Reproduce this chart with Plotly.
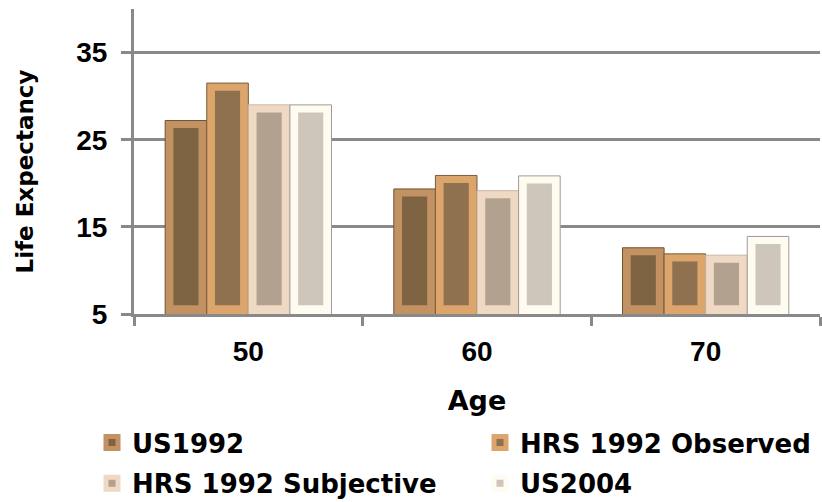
import numpy as np
import plotly.graph_objects as go

ages = ["50", "60", "70"]
series_names = ["US1992", "HRS 1992 Observed", "HRS 1992 Subjective", "US2004"]
us1992 = [27.2, 19.35, 12.6]
hrs_observed = [31.5, 20.9, 11.9]
hrs_subjective = [29.0, 19.15, 11.75]
us2004 = [29.0, 20.85, 13.9]
y_ticks = [5, 15, 25, 35]

series_values = [us1992, hrs_observed, hrs_subjective, us2004]

outer_colors = ["#c29262", "#dca56c", "#efd9c4", "#fefbf1"]
inner_colors = ["#7f6444", "#8f7150", "#b3a18f", "#cec5bb"]
edge_colors = ["#6e5233", "#7a5c3c", "#c8b6a4", "#a29b94"]
legend_ids = ["legend", "legend2", "legend", "legend2"]

GROUP = 0.7275
BAR_W = GROUP / 4
INSET_X = 0.036
AX_MIN = 5
BEV_BOTTOM = 1.0
BEV_TOP = 0.87

GRID = "#898989"

fig = go.Figure()

# outer (bevel) bars
for i, (name, vals) in enumerate(zip(series_names, series_values)):
    off = -GROUP / 2 + i * BAR_W
    fig.add_trace(go.Bar(
        x=ages, y=vals, name=name, showlegend=False,
        offset=off, width=BAR_W,
        marker=dict(color=outer_colors[i], line=dict(color=edge_colors[i], width=1)),
    ))

# inner (face) bars
for i, (name, vals) in enumerate(zip(series_names, series_values)):
    off = -GROUP / 2 + i * BAR_W + INSET_X
    v = np.array(vals)
    fig.add_trace(go.Bar(
        x=ages, y=v - AX_MIN - BEV_BOTTOM - BEV_TOP, base=AX_MIN + BEV_BOTTOM,
        name=name, showlegend=False, hoverinfo="skip",
        offset=off, width=BAR_W - 2 * INSET_X,
        marker=dict(color=inner_colors[i], line=dict(width=0)),
    ))

# legend entries
for i, name in enumerate(series_names):
    fig.add_trace(go.Bar(
        x=[ages[0]], y=[None], name=name, showlegend=True,
        legend=legend_ids[i], legendgroup=name,
        marker=dict(color=inner_colors[i], line=dict(color=outer_colors[i], width=5)),
    ))

legend_font = dict(family="DejaVu Sans", size=26, color="black", weight="bold")
common_legend = dict(
    orientation="v", xref="container", yref="container",
    xanchor="left", yanchor="top", font=legend_font,
    traceorder="grouped", itemclick=False, tracegroupgap=4,
    bgcolor="rgba(0,0,0,0)",
)

fig.update_layout(
    width=822, height=502,
    margin=dict(l=134, r=2, t=9, b=188, autoexpand=False),
    paper_bgcolor="white", plot_bgcolor="white",
    barmode="overlay",
    showlegend=True,
    legend=dict(common_legend, x=92 / 822, y=1 - 419 / 502),
    legend2=dict(common_legend, x=480 / 822, y=1 - 419 / 502),
    xaxis=dict(
        type="category", tickson="boundaries", automargin=False,
        ticks="outside", ticklen=9, tickwidth=3, tickcolor=GRID,
        showline=True, linecolor=GRID, linewidth=3,
        showgrid=False,
        tickfont=dict(family="Liberation Sans", size=28, color="black", weight="bold"),
        ticklabelstandoff=10,
        title=dict(text="Age", standoff=26,
                   font=dict(family="DejaVu Sans", size=27, color="black", weight="bold")),
    ),
    yaxis=dict(
        range=[5, 40], tickvals=y_ticks, automargin=False,
        ticks="outside", ticklen=10, tickwidth=3, tickcolor=GRID,
        showline=True, linecolor=GRID, linewidth=3,
        showgrid=True, gridcolor=GRID, gridwidth=3, zeroline=False,
        tickfont=dict(family="Liberation Sans", size=28, color="black", weight="bold"),
        ticklabelstandoff=8,
    ),
    annotations=[dict(
        text="Life Expectancy", textangle=-90, showarrow=False,
        xref="paper", yref="paper", x=0, y=0.5, xanchor="center", yanchor="middle",
        xshift=-110, yshift=-10,
        font=dict(family="DejaVu Sans", size=23, color="black", weight="bold"),
    )],
)

fig.write_html("out.html", config={"displayModeBar": False},
               post_script="document.body.style.margin='0';")
